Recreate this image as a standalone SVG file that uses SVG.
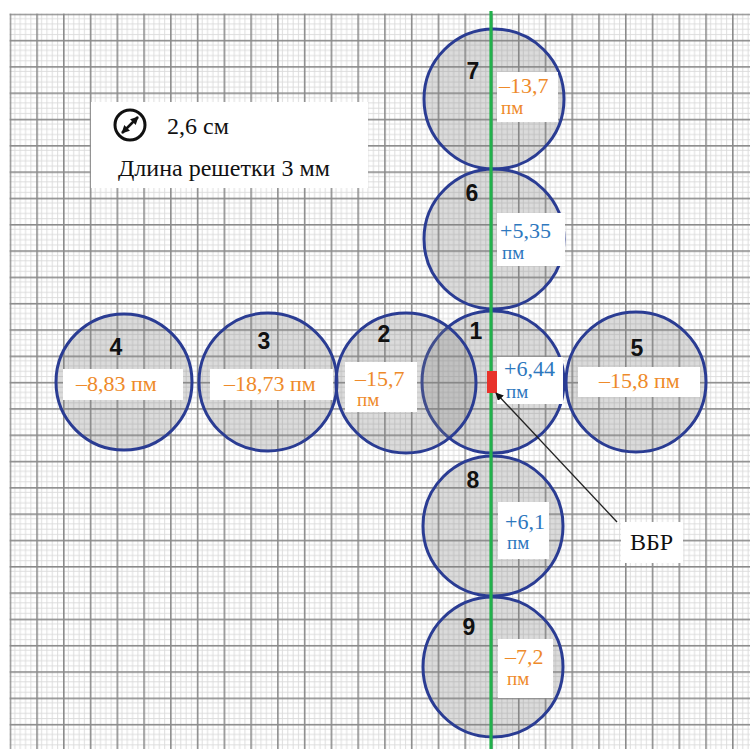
<svg xmlns="http://www.w3.org/2000/svg" width="750" height="749" viewBox="0 0 750 749">
<style>
.c{fill:#7f7f7f;fill-opacity:0.28;stroke:#2a3c93;stroke-width:3}
.n{font-family:"Liberation Sans",Arial,sans-serif;font-weight:bold;font-size:23px;fill:#111;text-anchor:middle}
.b{fill:#fff}
.o{font-family:"Liberation Serif","Times New Roman",serif;font-size:22px;fill:#ee8a2a}
.u{font-family:"Liberation Serif","Times New Roman",serif;font-size:22px;fill:#2e78be}
.s{font-size:19px}
.t{font-family:"Liberation Serif","Times New Roman",serif;font-size:24px;fill:#111}
</style>
<defs>
<pattern id="g" x="9.5" y="13.5" width="26.76" height="26.31" patternUnits="userSpaceOnUse">
<g stroke="#dadada" stroke-width="0.9">
<line x1="5.35" y1="0" x2="5.35" y2="26.31"/><line x1="10.7" y1="0" x2="10.7" y2="26.31"/><line x1="16.06" y1="0" x2="16.06" y2="26.31"/><line x1="21.41" y1="0" x2="21.41" y2="26.31"/>
<line x1="0" y1="5.26" x2="26.76" y2="5.26"/><line x1="0" y1="10.52" x2="26.76" y2="10.52"/><line x1="0" y1="15.79" x2="26.76" y2="15.79"/><line x1="0" y1="21.05" x2="26.76" y2="21.05"/>
</g>
<rect x="0" y="0" width="1.6" height="26.31" fill="#8a8a8a"/>
<rect x="0" y="0" width="26.76" height="1.6" fill="#8a8a8a"/>
</pattern>
<marker id="ah" viewBox="0 0 10 10" refX="9" refY="5" markerWidth="8" markerHeight="8" markerUnits="userSpaceOnUse" orient="auto"><path d="M0,0 L10,5 L0,10 z" fill="#111"/></marker>
<marker id="la" viewBox="0 0 10 10" refX="9" refY="5" markerWidth="3.2" markerHeight="3.2" orient="auto-start-reverse"><path d="M0,0 L10,5 L0,10 z" fill="#111"/></marker>
</defs>
<rect width="750" height="749" fill="#fff"/>
<rect x="9.5" y="13.5" width="741" height="736" fill="url(#g)"/>

<g id="legend">
<rect class="b" x="91" y="102" width="277" height="86"/>
<circle cx="130" cy="125" r="15" fill="none" stroke="#111" stroke-width="3"/>
<line x1="122" y1="133" x2="138" y2="117" stroke="#111" stroke-width="2.5" marker-start="url(#la)" marker-end="url(#la)"/>
<text class="t" x="167" y="134">2,6 см</text>
<text class="t" x="118" y="176">Длина решетки 3 мм</text>
</g>

<g id="circles">
<g id="node7"><circle class="c" cx="494" cy="99" r="70"/></g>
<g id="node6"><circle class="c" cx="494" cy="239" r="70"/></g>
<g id="node1"><circle class="c" cx="493" cy="382" r="71"/></g>
<g id="node8"><circle class="c" cx="493" cy="526" r="70"/></g>
<g id="node9"><circle class="c" cx="493" cy="667" r="70"/></g>
<g id="node4"><circle class="c" cx="124" cy="382" r="68"/></g>
<g id="node3"><circle class="c" cx="268" cy="382" r="69"/></g>
<g id="node2"><circle class="c" cx="406" cy="383" r="70"/></g>
<g id="node5"><circle class="c" cx="636" cy="382" r="70"/></g>
</g>

<line id="axis" x1="491" y1="11" x2="491" y2="749" stroke="#22b14c" stroke-width="3.2"/>

<g id="labels">
<g id="label7"><text class="n" x="473" y="79">7</text><rect class="b" x="497" y="72" width="61" height="50"/><text class="o" x="499" y="93">–13,7</text><text class="o s" x="501" y="114">пм</text></g>
<g id="label6"><text class="n" x="472" y="201">6</text><rect class="b" x="497" y="213" width="68" height="53"/><text class="u" x="500" y="238">+5,35</text><text class="u s" x="502" y="259">пм</text></g>
<g id="label1"><text class="n" x="476" y="339">1</text><rect class="b" x="497" y="357" width="66" height="47"/><text class="u" x="504" y="376">+6,44</text><text class="u s" x="506" y="398">пм</text></g>
<g id="label2"><text class="n" x="384" y="342">2</text><rect class="b" x="345" y="362" width="72" height="50"/><text class="o" x="355" y="386">–15,7</text><text class="o s" x="357" y="406">пм</text></g>
<g id="label3"><text class="n" x="264" y="349">3</text><rect class="b" x="210" y="369" width="123" height="31"/><text class="o" x="224" y="391">–18,73 пм</text></g>
<g id="label4"><text class="n" x="116" y="355">4</text><rect class="b" x="63" y="369" width="120" height="31"/><text class="o" x="76" y="391">–8,83 пм</text></g>
<g id="label5"><text class="n" x="637" y="356">5</text><rect class="b" x="578" y="367" width="122" height="30"/><text class="o" x="599" y="388">–15,8 пм</text></g>
<g id="label8"><text class="n" x="473" y="488">8</text><rect class="b" x="498" y="502" width="51" height="57"/><text class="u" x="505" y="529">+6,1</text><text class="u s" x="507" y="549">пм</text></g>
<g id="label9"><text class="n" x="469" y="635">9</text><rect class="b" x="498" y="639" width="55" height="59"/><text class="o" x="505" y="664">–7,2</text><text class="o s" x="507" y="685">пм</text></g>
</g>

<g id="vbr">
<rect x="487" y="371" width="10" height="22" fill="#e8322a"/>
<rect class="b" x="621" y="522" width="62" height="41"/>
<text class="t" x="630" y="550">ВБР</text>
</g>

<g id="connectors">
<line x1="617" y1="522" x2="496" y2="393" stroke="#222" stroke-width="1.3" marker-end="url(#ah)"/>
</g>
</svg>
